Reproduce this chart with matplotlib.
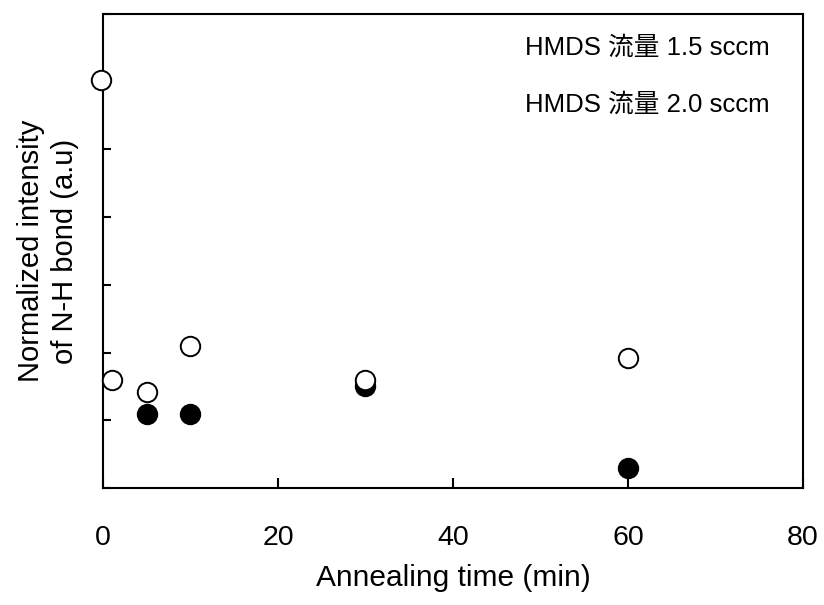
import matplotlib.pyplot as plt

plt.rcParams['font.family'] = ['Liberation Sans', 'Noto Sans CJK JP']

# HMDS 1.5 sccm (open circles)
t_15 = [-0.2, 1, 5, 10, 30, 60]
nh_15 = [6.03, 1.6, 1.42, 2.1, 1.6, 1.92]

# HMDS 2.0 sccm (filled circles)
t_20 = [5, 10, 30, 60]
nh_20 = [1.09, 1.09, 1.5, 0.3]

labels = ['HMDS 流量 1.5 sccm', 'HMDS 流量 2.0 sccm']

fig = plt.figure(figsize=(8.24, 6.05), dpi=100)
ax = fig.add_axes([0.125, 0.1934, 0.8495, 0.7835])

ax.plot(t_20, nh_20, 'o', ms=14, mfc='black', mec='black', mew=1.4,
        zorder=5, clip_on=False)
ax.plot(t_15, nh_15, 'o', ms=14, mfc='white', mec='black', mew=1.4,
        zorder=6, clip_on=False)

ax.set_xlim(0, 80)
ax.set_ylim(0, 7)
ax.set_xticks([0, 20, 40, 60, 80])
ax.set_yticks(range(0, 8))
ax.set_yticklabels([])
ax.tick_params(direction='in', length=7, width=1.5, labelsize=20.5)
ax.tick_params(axis='x', pad=27)
ax.tick_params(axis='y', length=6, pad=14)
for s in ax.spines.values():
    s.set_linewidth(1.5)

ax.set_xlabel('Annealing time (min)', fontsize=21.5, labelpad=9)
ax.set_ylabel('Normalized intensity\nof N-H bond (a.u)', fontsize=21,
              labelpad=3, linespacing=1.3)

ax.text(0.953, 0.929, labels[0], transform=ax.transAxes, ha='right',
        va='center', fontsize=18.5)
ax.text(0.953, 0.809, labels[1], transform=ax.transAxes, ha='right',
        va='center', fontsize=18.5)

fig.savefig('out.png', dpi=100)
